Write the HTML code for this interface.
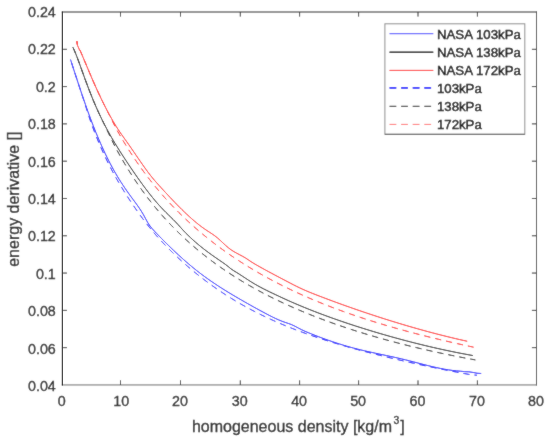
<!DOCTYPE html>
<html><head><meta charset="utf-8"><title>energy derivative vs homogeneous density</title>
<style>html,body{margin:0;padding:0;background:#fff;width:550px;height:443px;overflow:hidden}svg{display:block}</style>
</head><body>
<svg width="550" height="443" viewBox="0 0 550 443">
<defs><clipPath id="c"><rect x="62.35" y="12.0" width="474.15" height="372.95"/></clipPath><filter id="s" x="0" y="0" width="550" height="443" filterUnits="userSpaceOnUse"><feConvolveMatrix order="3" kernelMatrix="1 2 1 2 24 2 1 2 1" edgeMode="duplicate"/></filter></defs>
<rect width="550" height="443" fill="#fff"/>
<g filter="url(#s)">
<rect width="550" height="443" fill="#fff"/>
<g clip-path="url(#c)" fill="none" stroke-linejoin="round" stroke-linecap="butt">
<polyline points="70.50,59.49 70.62,59.87 70.87,60.65 71.22,61.72 71.63,63.02 72.12,64.53 72.67,66.24 73.28,68.12 73.94,70.16 74.65,72.36 75.41,74.70 76.22,77.18 77.08,79.79 77.97,82.52 78.92,85.37 79.90,88.32 80.92,91.37 81.98,94.52 83.08,97.74 84.22,101.05 85.39,104.42 86.60,107.85 87.84,111.33 89.12,114.85 90.44,118.40 91.78,121.96 93.16,125.54 94.57,129.11 96.01,132.69 97.49,136.25 98.99,139.81 100.52,143.34 102.09,146.85 103.68,150.33 105.31,153.78 106.96,157.18 108.64,160.54 110.35,163.85 112.09,167.11 113.85,170.30 115.64,173.43 117.46,176.50 119.31,179.50 121.18,182.45 123.08,185.36 125.00,188.21 126.95,191.03 128.93,193.82 130.93,196.58 132.96,199.33 135.01,202.09 137.09,204.94 139.19,207.94 141.32,211.18 143.47,214.75 145.64,218.78 147.84,222.78 150.06,226.07 152.30,228.81 154.57,231.27 156.86,233.68 159.18,236.08 161.52,238.47 163.88,240.85 166.26,243.23 168.66,245.59 171.09,247.95 173.54,250.30 176.01,252.63 178.51,254.94 181.02,257.24 183.56,259.52 186.12,261.77 188.70,263.99 191.30,266.18 193.92,268.34 196.56,270.46 199.23,272.54 201.91,274.58 204.62,276.59 207.35,278.55 210.09,280.49 212.86,282.39 215.65,284.26 218.46,286.11 221.29,287.93 224.13,289.72 227.00,291.50 229.89,293.26 232.80,295.01 235.73,296.74 238.67,298.46 241.64,300.17 244.63,301.89 247.63,303.59 250.66,305.30 253.70,306.99 256.76,308.68 259.84,310.36 262.94,312.03 266.06,313.69 269.20,315.33 272.36,316.93 275.54,318.47 278.73,319.91 281.94,321.22 285.17,322.39 288.42,323.48 291.69,324.68 294.98,326.24 298.28,328.00 301.60,329.69 304.94,331.23 308.30,332.66 311.68,334.03 315.07,335.37 318.48,336.68 321.91,337.96 325.36,339.22 328.82,340.45 332.31,341.64 335.81,342.81 339.32,343.93 342.86,345.03 346.41,346.08 349.98,347.10 353.56,348.08 357.17,349.01 360.79,349.91 364.42,350.77 368.08,351.60 371.75,352.42 375.44,353.22 379.14,354.01 382.86,354.79 386.60,355.58 390.35,356.39 394.13,357.21 397.91,358.05 401.72,358.93 405.54,359.85 409.38,360.81 413.23,361.80 417.10,362.81 420.98,363.82 424.89,364.82 428.81,365.80 432.74,366.75 436.69,367.64 440.66,368.48 444.64,369.24 448.64,369.90 452.65,370.46 456.69,370.89 460.73,371.22 464.79,371.67 468.87,371.80 472.97,372.43 477.07,373.23 481.20,373.50" stroke="#0000ff" stroke-width="1.0"/>
<polyline points="72.92,47.32 73.16,47.83 73.50,48.55 73.90,49.45 74.38,50.52 74.91,51.78 75.50,53.20 76.15,54.80 76.84,56.58 77.59,58.52 78.37,60.63 79.21,62.90 80.08,65.32 81.00,67.88 81.96,70.55 82.95,73.33 83.99,76.19 85.06,79.11 86.16,82.11 87.31,85.15 88.48,88.25 89.70,91.39 90.94,94.55 92.22,97.73 93.53,100.92 94.87,104.11 96.25,107.28 97.65,110.43 99.09,113.56 100.55,116.66 102.05,119.74 103.57,122.78 105.13,125.80 106.71,128.80 108.32,131.76 109.95,134.70 111.62,137.61 113.31,140.50 115.03,143.37 116.78,146.23 118.55,149.07 120.35,151.91 122.17,154.75 124.02,157.59 125.90,160.45 127.80,163.31 129.72,166.19 131.67,169.08 133.65,171.98 135.65,174.87 137.67,177.76 139.72,180.64 141.79,183.51 143.88,186.37 146.00,189.19 148.14,191.99 150.31,194.75 152.49,197.48 154.70,200.15 156.93,202.77 159.19,205.32 161.47,207.81 163.77,210.22 166.09,212.56 168.43,214.86 170.79,217.17 173.18,219.52 175.59,221.98 178.02,224.57 180.47,227.30 182.94,230.05 185.43,232.71 187.95,235.20 190.48,237.62 193.04,239.98 195.61,242.26 198.21,244.48 200.82,246.62 203.46,248.71 206.11,250.75 208.79,252.75 211.49,254.71 214.20,256.64 216.94,258.54 219.69,260.44 222.47,262.33 225.26,264.29 228.08,266.46 230.91,268.81 233.76,270.74 236.63,272.47 239.52,274.31 242.43,276.20 245.36,278.13 248.31,280.06 251.27,281.94 254.25,283.75 257.26,285.48 260.28,287.13 263.32,288.72 266.37,290.26 269.45,291.77 272.54,293.25 275.66,294.73 278.79,296.20 281.93,297.67 285.10,299.13 288.28,300.57 291.48,301.99 294.70,303.38 297.94,304.76 301.19,306.13 304.46,307.48 307.75,308.81 311.06,310.13 314.38,311.43 317.72,312.72 321.08,313.99 324.46,315.25 327.85,316.49 331.26,317.73 334.68,318.95 338.13,320.15 341.59,321.35 345.06,322.53 348.56,323.70 352.07,324.85 355.59,326.00 359.14,327.14 362.70,328.26 366.27,329.37 369.86,330.48 373.47,331.57 377.10,332.65 380.74,333.72 384.40,334.78 388.07,335.84 391.76,336.88 395.47,337.90 399.19,338.92 402.93,339.93 406.68,340.92 410.45,341.90 414.24,342.87 418.04,343.82 421.86,344.76 425.69,345.69 429.54,346.60 433.40,347.50 437.28,348.38 441.18,349.25 445.09,350.10 449.02,350.93 452.96,351.75 456.92,352.55 460.89,353.33 464.88,354.09 468.88,354.83 472.90,355.56" stroke="#000" stroke-width="1.0"/>
<polyline points="76.90,41.00 77.20,44.00 77.60,45.60 78.30,47.20 79.40,49.60 80.17,50.57 80.84,52.15 81.57,53.84 82.34,55.65 83.15,57.57 84.00,59.59 84.90,61.72 85.83,63.93 86.80,66.24 87.81,68.64 88.86,71.11 89.94,73.66 91.05,76.27 92.20,78.94 93.38,81.65 94.60,84.40 95.85,87.19 97.12,90.01 98.43,92.85 99.77,95.71 101.14,98.59 102.54,101.47 103.97,104.36 105.43,107.24 106.92,110.11 108.43,112.97 109.98,115.80 111.55,118.60 113.14,121.37 114.77,124.09 116.42,126.76 118.10,129.36 119.80,131.91 121.53,134.41 123.28,136.89 125.06,139.39 126.87,141.92 128.70,144.52 130.55,147.19 132.43,149.91 134.33,152.68 136.26,155.50 138.21,158.34 140.18,161.20 142.18,164.08 144.20,166.94 146.24,169.78 148.31,172.57 150.40,175.30 152.51,177.93 154.64,180.47 156.80,182.92 158.97,185.34 161.17,187.75 163.39,190.18 165.64,192.62 167.90,195.06 170.19,197.50 172.49,199.95 174.82,202.38 177.17,204.80 179.54,207.20 181.93,209.58 184.34,211.93 186.77,214.24 189.23,216.51 191.70,218.73 194.19,220.89 196.70,222.99 199.23,225.01 201.79,226.96 204.36,228.81 206.95,230.57 209.56,232.26 212.19,233.97 214.84,235.83 217.51,237.95 220.20,240.34 222.90,242.87 225.63,245.41 228.37,247.78 231.14,249.85 233.92,251.63 236.72,253.21 239.54,254.70 242.38,256.19 245.23,257.81 248.11,259.70 251.00,261.67 253.91,263.49 256.84,265.18 259.79,266.85 262.75,268.49 265.73,270.13 268.73,271.75 271.75,273.37 274.79,274.99 277.84,276.60 280.91,278.22 284.00,279.85 287.10,281.48 290.23,283.12 293.37,284.74 296.52,286.33 299.70,287.87 302.89,289.35 306.10,290.76 309.32,292.12 312.57,293.43 315.82,294.71 319.10,295.97 322.39,297.23 325.70,298.48 329.03,299.73 332.37,300.97 335.73,302.21 339.10,303.44 342.49,304.66 345.90,305.88 349.33,307.09 352.77,308.30 356.22,309.50 359.70,310.69 363.18,311.88 366.69,313.06 370.21,314.23 373.75,315.40 377.30,316.56 380.87,317.71 384.45,318.85 388.05,319.99 391.67,321.11 395.30,322.23 398.94,323.34 402.61,324.44 406.28,325.53 409.98,326.60 413.68,327.67 417.41,328.73 421.15,329.77 424.90,330.81 428.67,331.83 432.46,332.84 436.26,333.83 440.07,334.82 443.90,335.78 447.75,336.74 451.61,337.67 455.48,338.60 459.37,339.50 463.28,340.39 467.20,341.26" stroke="#ff0000" stroke-width="1.0"/>
<polyline points="70.60,59.80 70.72,60.18 70.97,60.95 71.31,62.01 71.72,63.29 72.20,64.79 72.75,66.48 73.35,68.34 74.00,70.36 74.71,72.53 75.46,74.85 76.26,77.31 77.11,79.89 78.00,82.59 78.93,85.41 79.90,88.34 80.91,91.41 81.96,94.62 83.05,97.97 84.17,101.48 85.34,105.14 86.53,108.92 87.76,112.79 89.03,116.70 90.33,120.59 91.66,124.39 93.02,128.08 94.42,131.75 95.84,135.40 97.30,139.02 98.79,142.61 100.31,146.17 101.86,149.69 103.44,153.18 105.04,156.62 106.68,160.03 108.34,163.39 110.03,166.72 111.75,170.01 113.50,173.26 115.27,176.47 117.07,179.64 118.90,182.78 120.75,185.89 122.63,188.98 124.53,192.03 126.46,195.07 128.42,198.10 130.40,201.11 132.41,204.10 134.44,207.09 136.49,210.05 138.57,212.99 140.67,215.90 142.80,218.79 144.95,221.63 147.13,224.43 149.33,227.19 151.55,229.91 153.79,232.58 156.06,235.21 158.35,237.79 160.66,240.34 163.00,242.85 165.36,245.33 167.74,247.77 170.14,250.18 172.56,252.56 175.01,254.92 177.48,257.24 179.96,259.55 182.47,261.82 185.01,264.07 187.56,266.29 190.13,268.49 192.73,270.66 195.34,272.80 197.98,274.92 200.64,277.01 203.32,279.08 206.01,281.12 208.73,283.13 211.47,285.12 214.23,287.08 217.01,289.01 219.81,290.92 222.63,292.80 225.46,294.66 228.32,296.48 231.20,298.28 234.10,300.05 237.01,301.80 239.95,303.51 242.90,305.20 245.88,306.85 248.87,308.48 251.88,310.09 254.91,311.66 257.96,313.21 261.03,314.73 264.12,316.23 267.22,317.70 270.35,319.15 273.49,320.57 276.65,321.97 279.83,323.34 283.03,324.70 286.24,326.03 289.48,327.33 292.73,328.62 296.00,329.88 299.28,331.13 302.59,332.35 305.91,333.56 309.25,334.75 312.61,335.91 315.99,337.06 319.38,338.20 322.79,339.31 326.22,340.41 329.66,341.49 333.13,342.56 336.61,343.61 340.10,344.65 343.62,345.68 347.15,346.69 350.70,347.69 354.26,348.68 357.85,349.65 361.45,350.62 365.06,351.57 368.69,352.52 372.34,353.45 376.01,354.38 379.69,355.30 383.39,356.21 387.10,357.11 390.84,358.01 394.58,358.90 398.35,359.79 402.13,360.66 405.93,361.53 409.74,362.40 413.57,363.25 417.42,364.10 421.28,364.94 425.15,365.77 429.05,366.60 432.96,367.41 436.88,368.22 440.82,369.03 444.78,369.82 448.75,370.61 452.74,371.38 456.75,372.15 460.77,372.91 464.80,373.66 468.85,374.36 472.92,374.92 477.00,375.23" stroke="#0000ff" stroke-width="1.0" stroke-dasharray="6.2 5" stroke-dashoffset="8.2"/>
<polyline points="73.02,47.53 73.27,48.05 73.60,48.78 74.01,49.69 74.49,50.78 75.03,52.05 75.62,53.49 76.27,55.11 76.97,56.90 77.71,58.86 78.51,60.99 79.34,63.28 80.23,65.72 81.15,68.30 82.11,70.99 83.11,73.78 84.15,76.64 85.23,79.58 86.34,82.59 87.49,85.65 88.68,88.76 89.90,91.90 91.15,95.07 92.44,98.26 93.76,101.46 95.11,104.65 96.49,107.82 97.90,110.98 99.35,114.11 100.82,117.22 102.32,120.34 103.86,123.49 105.42,126.70 107.01,129.99 108.63,133.37 110.28,136.82 111.95,140.33 113.66,143.83 115.38,147.24 117.14,150.49 118.92,153.71 120.73,156.91 122.57,160.10 124.43,163.27 126.32,166.41 128.23,169.53 130.16,172.62 132.13,175.68 134.11,178.72 136.12,181.73 138.16,184.70 140.22,187.65 142.30,190.56 144.41,193.45 146.54,196.30 148.69,199.12 150.87,201.90 153.07,204.66 155.29,207.38 157.54,210.07 159.81,212.73 162.10,215.35 164.41,217.94 166.75,220.50 169.10,223.03 171.48,225.53 173.88,227.99 176.31,230.43 178.75,232.83 181.21,235.20 183.70,237.54 186.21,239.86 188.74,242.14 191.29,244.40 193.86,246.63 196.45,248.82 199.06,251.00 201.69,253.14 204.34,255.25 207.01,257.34 209.71,259.40 212.42,261.44 215.15,263.44 217.90,265.43 220.67,267.38 223.47,269.31 226.28,271.22 229.11,273.10 231.96,274.95 234.83,276.78 237.71,278.59 240.62,280.37 243.55,282.13 246.49,283.87 249.46,285.58 252.44,287.28 255.44,288.95 258.46,290.59 261.50,292.22 264.56,293.83 267.64,295.41 270.73,296.97 273.84,298.52 276.97,300.04 280.12,301.55 283.29,303.03 286.47,304.50 289.67,305.95 292.90,307.38 296.13,308.79 299.39,310.19 302.66,311.56 305.95,312.92 309.26,314.27 312.59,315.59 315.93,316.90 319.29,318.20 322.67,319.47 326.07,320.74 329.48,321.98 332.91,323.21 336.35,324.43 339.82,325.63 343.30,326.81 346.80,327.98 350.31,329.14 353.84,330.28 357.39,331.41 360.95,332.52 364.54,333.62 368.13,334.70 371.75,335.77 375.38,336.83 379.02,337.88 382.69,338.91 386.37,339.93 390.06,340.93 393.78,341.92 397.50,342.90 401.25,343.87 405.01,344.82 408.79,345.77 412.58,346.70 416.39,347.61 420.21,348.52 424.05,349.41 427.91,350.29 431.78,351.16 435.67,352.02 439.57,352.86 443.49,353.69 447.42,354.51 451.37,355.32 455.34,356.12 459.32,356.91 463.32,357.68 467.33,358.44 471.36,359.19 475.40,359.93" stroke="#000" stroke-width="1.0" stroke-dasharray="6.2 5" stroke-dashoffset="0.05"/>
<polyline points="76.90,41.00 77.20,44.00 77.60,45.60 78.30,47.20 79.40,49.60 80.32,50.92 81.01,52.53 81.74,54.26 82.53,56.10 83.35,58.05 84.22,60.10 85.13,62.26 86.08,64.51 87.06,66.86 88.09,69.29 89.15,71.80 90.25,74.39 91.38,77.03 92.55,79.74 93.75,82.48 94.98,85.27 96.25,88.09 97.55,90.94 98.88,93.81 100.24,96.70 101.64,99.61 103.06,102.52 104.51,105.43 105.99,108.39 107.50,111.42 109.04,114.50 110.61,117.64 112.21,120.83 113.83,124.06 115.48,127.29 117.16,130.45 118.86,133.47 120.59,136.45 122.35,139.43 124.13,142.40 125.94,145.35 127.77,148.30 129.63,151.22 131.52,154.13 133.43,157.02 135.36,159.90 137.32,162.75 139.30,165.58 141.30,168.40 143.33,171.19 145.38,173.96 147.46,176.70 149.56,179.42 151.68,182.12 153.83,184.80 156.00,187.45 158.19,190.07 160.40,192.67 162.63,195.25 164.89,197.80 167.17,200.32 169.47,202.82 171.79,205.29 174.14,207.74 176.50,210.16 178.89,212.56 181.30,214.93 183.73,217.28 186.18,219.60 188.65,221.90 191.14,224.17 193.65,226.42 196.18,228.65 198.74,230.85 201.31,233.03 203.90,235.18 206.52,237.31 209.15,239.42 211.80,241.51 214.47,243.57 217.17,245.61 219.88,247.62 222.61,249.62 225.36,251.59 228.13,253.54 230.92,255.46 233.73,257.37 236.55,259.25 239.40,261.11 242.26,262.95 245.15,264.77 248.05,266.57 250.97,268.35 253.91,270.10 256.87,271.84 259.84,273.55 262.84,275.25 265.85,276.92 268.88,278.58 271.93,280.21 275.00,281.83 278.08,283.42 281.18,285.00 284.30,286.56 287.44,288.09 290.60,289.61 293.77,291.12 296.96,292.60 300.17,294.06 303.39,295.51 306.64,296.94 309.90,298.35 313.17,299.75 316.47,301.12 319.78,302.48 323.11,303.82 326.46,305.15 329.82,306.45 333.20,307.75 336.59,309.02 340.01,310.28 343.44,311.53 346.88,312.76 350.34,313.97 353.82,315.17 357.32,316.35 360.83,317.52 364.36,318.68 367.91,319.82 371.47,320.95 375.04,322.06 378.64,323.16 382.25,324.25 385.87,325.33 389.51,326.39 393.17,327.45 396.85,328.49 400.54,329.52 404.24,330.53 407.96,331.54 411.70,332.54 415.45,333.52 419.22,334.49 423.00,335.46 426.80,336.41 430.62,337.36 434.45,338.29 438.30,339.22 442.16,340.14 446.03,341.05 449.93,341.95 453.83,342.84 457.76,343.73 461.70,344.60 465.65,345.47 469.62,346.34 473.60,347.19" stroke="#ff0000" stroke-width="1.0" stroke-dasharray="6.2 5" stroke-dashoffset="2.2"/>
</g>
<g fill="none" stroke="#262626" stroke-width="1">
<path d="M536.5 11.5V385.45"/>
<path d="M61.85 12.0H537.0"/>
<path d="M61.85 384.95H537.0" stroke="#6a6a6a"/>
<path d="M120.5 384.95V380.34999999999997M120.5 12.0V16.6M180.5 384.95V380.34999999999997M180.5 12.0V16.6M240.3 384.95V380.34999999999997M240.3 12.0V16.6M299.6 384.95V380.34999999999997M299.6 12.0V16.6M358.6 384.95V380.34999999999997M358.6 12.0V16.6M418.0 384.95V380.34999999999997M418.0 12.0V16.6M477.4 384.95V380.34999999999997M477.4 12.0V16.6M62.35 49.30H66.95M536.5 49.30H531.9M62.35 86.59H66.95M536.5 86.59H531.9M62.35 123.88H66.95M536.5 123.88H531.9M62.35 161.18H66.95M536.5 161.18H531.9M62.35 198.47H66.95M536.5 198.47H531.9M62.35 235.77H66.95M536.5 235.77H531.9M62.35 273.06H66.95M536.5 273.06H531.9M62.35 310.36H66.95M536.5 310.36H531.9M62.35 347.65H66.95M536.5 347.65H531.9"/>
</g>
<g font-family="Liberation Sans, Arial, sans-serif" fill="#1a1a1a" stroke="#1a1a1a" stroke-width="0.3">
<g font-size="14.3" text-anchor="middle">
<text x="61.7" y="405.7">0</text>
<text x="121.2" y="405.7">10</text>
<text x="180.0" y="405.7">20</text>
<text x="239.8" y="405.7">30</text>
<text x="299.1" y="405.7">40</text>
<text x="358.1" y="405.7">50</text>
<text x="417.5" y="405.7">60</text>
<text x="476.9" y="405.7">70</text>
<text x="536.0" y="405.7">80</text>
</g>
<g font-size="14.3" text-anchor="end">
<text x="55.8" y="17.09">0.24</text>
<text x="55.8" y="54.49">0.22</text>
<text x="55.8" y="91.89">0.2</text>
<text x="55.8" y="129.29">0.18</text>
<text x="55.8" y="166.69">0.16</text>
<text x="55.8" y="204.09">0.14</text>
<text x="55.8" y="241.49">0.12</text>
<text x="55.8" y="278.89">0.1</text>
<text x="55.8" y="316.29">0.08</text>
<text x="55.8" y="353.69">0.06</text>
<text x="55.8" y="391.09">0.04</text>
</g>
<text x="191.9" y="432.0" font-size="16.0">homogeneous density [kg/m<tspan font-size="10.4" dx="1.5" dy="-8.4">3</tspan><tspan dx="1.0" dy="8.4">]</tspan></text>
<text transform="translate(18.6 199.2) rotate(-90)" font-size="16.0" text-anchor="middle">energy derivative []</text>
</g>
<rect x="384.9" y="23.8" width="139.89999999999998" height="110.50000000000001" fill="#fff" stroke="#8c8c8c" stroke-width="1"/>
<path d="M384.9 134.3H524.8" stroke="#555" stroke-width="1" fill="none"/>
<line x1="389.5" x2="433.3" y1="33.7" y2="33.7" fill="none" stroke="#0000ff" stroke-width="0.8"/>
<line x1="389.5" x2="433.3" y1="52.2" y2="52.2" fill="none" stroke="#000" stroke-width="1.4"/>
<line x1="389.5" x2="433.3" y1="70.4" y2="70.4" fill="none" stroke="#ff0000" stroke-width="1.0"/>
<line x1="389.5" x2="433.3" y1="87.9" y2="87.9" fill="none" stroke="#0000ff" stroke-width="1.6" stroke-dasharray="6.8 4.8"/>
<line x1="389.5" x2="433.3" y1="106.3" y2="106.3" fill="none" stroke="#111" stroke-width="1.0" stroke-dasharray="6.8 4.8"/>
<line x1="389.5" x2="433.3" y1="124.4" y2="124.4" fill="none" stroke="#ff0000" stroke-width="0.6" stroke-dasharray="6.8 4.8"/>
<g font-family="Liberation Sans, Arial, sans-serif" font-size="13.25" fill="#000" stroke="#000" stroke-width="0.4">
<text x="436.9" y="38.70">NASA 103kPa</text>
<text x="436.9" y="56.84">NASA 138kPa</text>
<text x="436.9" y="74.98">NASA 172kPa</text>
<text x="436.9" y="93.12">103kPa</text>
<text x="436.9" y="111.26">138kPa</text>
<text x="436.9" y="129.40">172kPa</text>
</g>
</g>
<path d="M62.35 11.5V385.45" stroke="#3a3a3a" stroke-width="1.15" fill="none"/>
</svg>
</body></html>
